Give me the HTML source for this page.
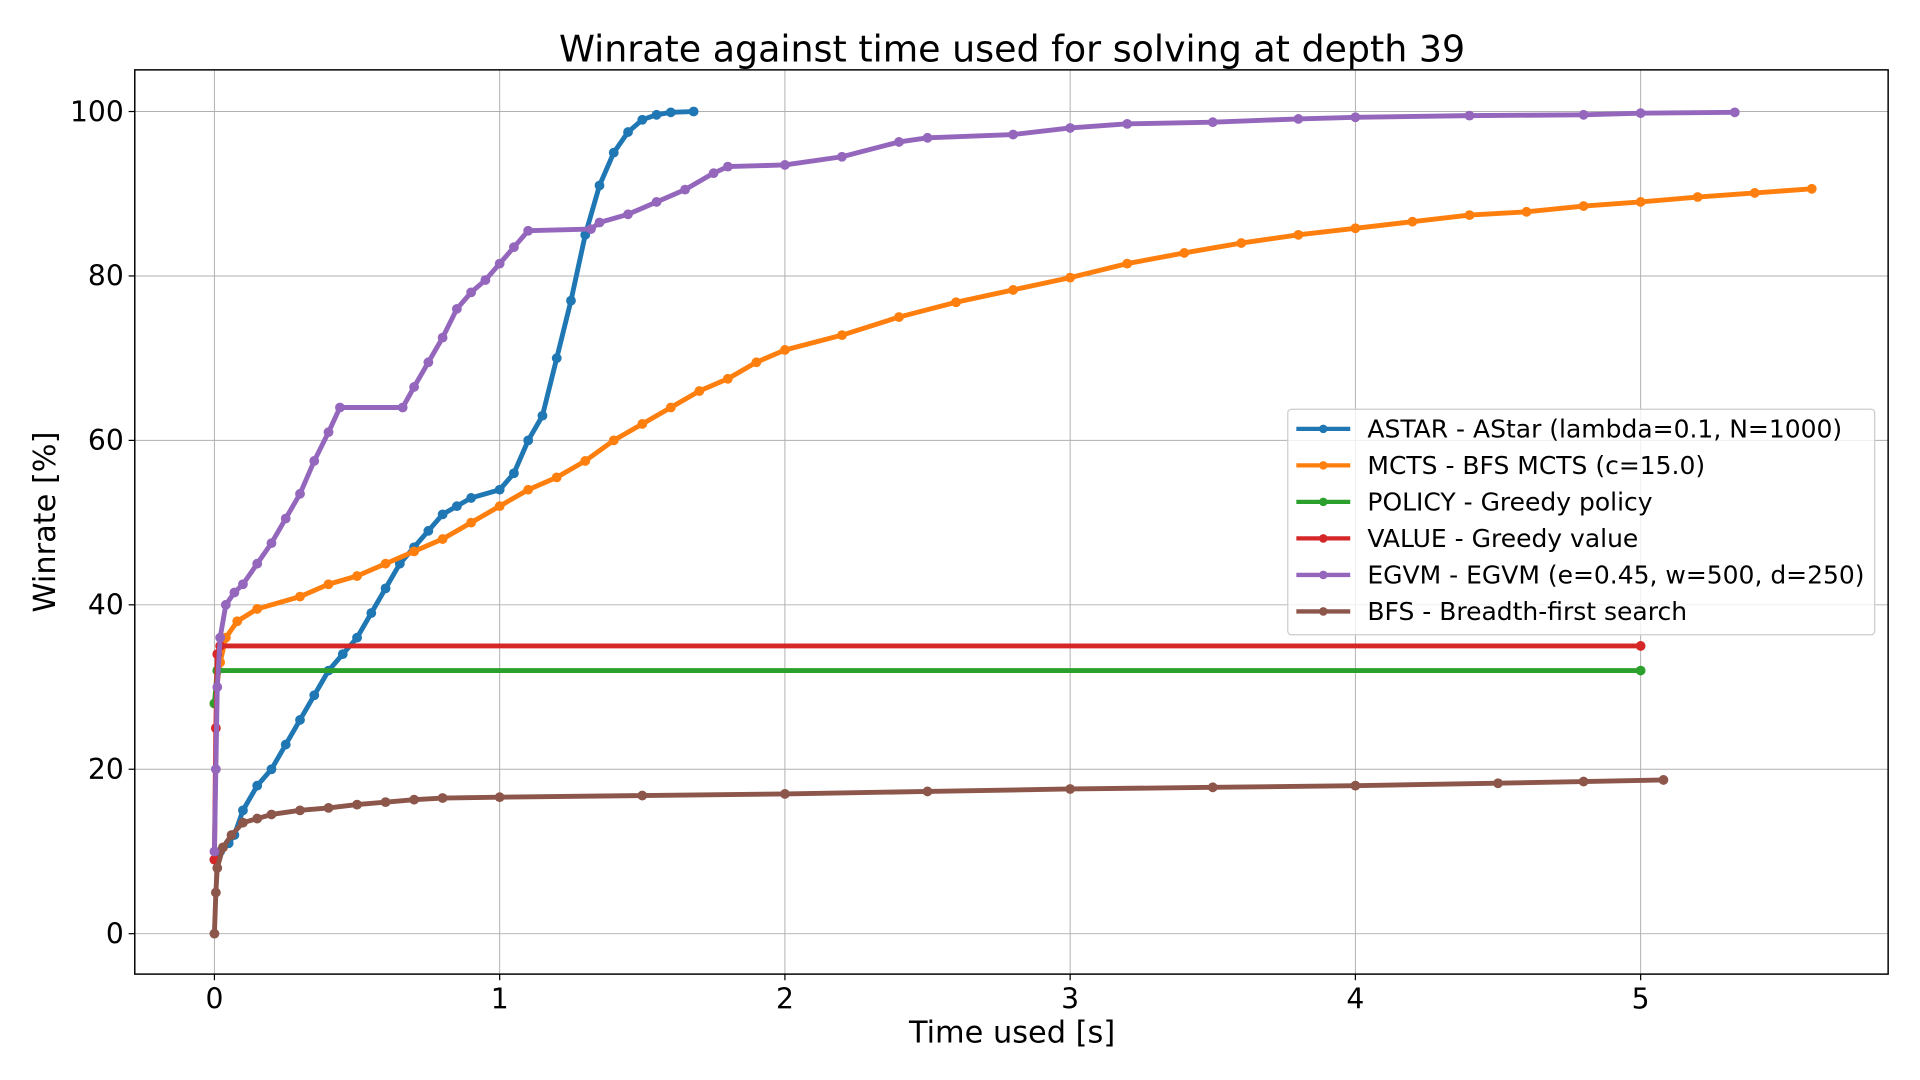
<!DOCTYPE html>
<html><head><meta charset="utf-8"><style>
html,body{margin:0;padding:0;background:#fff;}
svg{display:block;font-family:"DejaVu Sans","Liberation Sans",sans-serif;}
</style></head><body>
<svg id="chart" width="1920" height="1080" viewBox="0 0 1567 881.4">
<rect width="1567" height="881.4" fill="#fff"/>
<text x="826" y="50" font-size="29.7" text-anchor="middle">Winrate against time used for solving at depth 39</text>
<g id="grid"></g>
<g id="series"></g>
<rect x="110" y="57" width="1431" height="738" fill="none" stroke="#000" stroke-width="1.2"/>
<g id="ticks"></g>
<text x="826" y="851" font-size="24.8" text-anchor="middle">Time used [s]</text>
<text x="0" y="0" font-size="24.8" text-anchor="middle" transform="translate(45,426) rotate(-90)">Winrate [%]</text>
<g id="legend"></g>
</svg>
<script>
const xTicks=[0,1,2,3,4,5];
const yTicks=[0,20,40,60,80,100];
const seriesNames=["ASTAR - AStar (lambda=0.1, N=1000)","MCTS - BFS MCTS (c=15.0)","POLICY - Greedy policy","VALUE - Greedy value","EGVM - EGVM (e=0.45, w=500, d=250)","BFS - Breadth-first search"];
const seriesColors=["#1f77b4","#ff7f0e","#2ca02c","#d62728","#9467bd","#8c564b"];
const astarT=[0,0.02,0.05,0.07,0.1,0.15,0.2,0.25,0.3,0.35,0.4,0.45,0.5,0.55,0.6,0.65,0.7,0.75,0.8,0.85,0.9,1.0,1.05,1.1,1.15,1.2,1.25,1.3,1.35,1.4,1.45,1.5,1.55,1.6,1.68];
const astarW=[9,10,11,12,15,18,20,23,26,29,32,34,36,39,42,45,47,49,51,52,53,54,56,60,63,70,77,85,91,95,97.5,99,99.6,99.9,100];
const mctsT=[0,0.02,0.04,0.08,0.15,0.3,0.4,0.5,0.6,0.7,0.8,0.9,1.0,1.1,1.2,1.3,1.4,1.5,1.6,1.7,1.8,1.9,2.0,2.2,2.4,2.6,2.8,3.0,3.2,3.4,3.6,3.8,4.0,4.2,4.4,4.6,4.8,5.0,5.2,5.4,5.6];
const mctsW=[28,33,36,38,39.5,41,42.5,43.5,45,46.5,48,50,52,54,55.5,57.5,60,62,64,66,67.5,69.5,71,72.8,75,76.8,78.3,79.8,81.5,82.8,84,85,85.8,86.6,87.4,87.8,88.5,89,89.6,90.1,90.6];
const policyT=[0,0.01,5];
const policyW=[28,32,32];
const valueT=[0,0.005,0.01,0.02,5];
const valueW=[9,25,34,35,35];
const egvmT=[0,0.005,0.01,0.02,0.04,0.07,0.1,0.15,0.2,0.25,0.3,0.35,0.4,0.44,0.66,0.7,0.75,0.8,0.85,0.9,0.95,1.0,1.05,1.1,1.32,1.35,1.45,1.55,1.65,1.75,1.8,2.0,2.2,2.4,2.5,2.8,3.0,3.2,3.5,3.8,4.0,4.4,4.8,5.0,5.33];
const egvmW=[10,20,30,36,40,41.5,42.5,45,47.5,50.5,53.5,57.5,61,64,64,66.5,69.5,72.5,76,78,79.5,81.5,83.5,85.5,85.7,86.5,87.5,89,90.5,92.5,93.3,93.5,94.5,96.3,96.8,97.2,98,98.5,98.7,99.1,99.3,99.5,99.6,99.8,99.9];
const bfsT=[0,0.005,0.01,0.03,0.06,0.1,0.15,0.2,0.3,0.4,0.5,0.6,0.7,0.8,1.0,1.5,2.0,2.5,3.0,3.5,4.0,4.5,4.8,5.08];
const bfsW=[0,5,8,10.5,12,13.5,14,14.5,15,15.3,15.7,16,16.3,16.5,16.6,16.8,17,17.3,17.6,17.8,18,18.3,18.5,18.7];
const allT=[astarT,mctsT,policyT,valueT,egvmT,bfsT];
const allW=[astarW,mctsW,policyW,valueW,egvmW,bfsW];
const order=[0,1,2,3,4,5];
const NS="http://www.w3.org/2000/svg";
function xs(v){return 175+v*232.8;}
function ys(v){return 762-v*6.71;}
function mk(tag,attrs,parent){const e=document.createElementNS(NS,tag);for(const k in attrs)e.setAttribute(k,attrs[k]);parent.appendChild(e);return e;}
const grid=document.getElementById('grid'),ticks=document.getElementById('ticks'),ser=document.getElementById('series'),leg=document.getElementById('legend');
xTicks.forEach(t=>{
  const g=mk('line',{x1:xs(t),x2:xs(t),y1:57,y2:795,stroke:'#b0b0b0','stroke-width':0.8},grid);
  
  
  mk('line',{x1:xs(t),x2:xs(t),y1:795,y2:800,stroke:'#000','stroke-width':1},ticks);
  const l=mk('text',{x:xs(t),y:823,'font-size':23,'text-anchor':'middle'},ticks);
  l.textContent=t;
  
  
});
yTicks.forEach(t=>{
  const g=mk('line',{x1:110,x2:1541,y1:ys(t),y2:ys(t),stroke:'#b0b0b0','stroke-width':0.8},grid);
  
  
  mk('line',{x1:105,x2:110,y1:ys(t),y2:ys(t),stroke:'#000','stroke-width':1},ticks);
  const l=mk('text',{x:101,y:ys(t)+8,'font-size':23,'text-anchor':'end'},ticks);
  l.textContent=t;
  
  
});
order.forEach(i=>{
  const T=allT[i],W=allW[i],c=seriesColors[i];
  const g=mk('g',{},ser);
  
  
  const pts=T.map((t,k)=>xs(t)+','+ys(W[k])).join(' ');
  const pl=mk('polyline',{points:pts,fill:'none',stroke:c,'stroke-width':4,'stroke-linejoin':'round'},g);
  
  
  T.forEach((t,k)=>{
    const p=mk('circle',{cx:xs(t),cy:ys(W[k]),r:4,fill:c},g);
    
    
  });
});
mk('rect',{x:1051,y:334,width:479,height:184,rx:3,fill:'#fff','fill-opacity':0.8,stroke:'#ccc','stroke-width':1},leg);
seriesNames.forEach((n,i)=>{
  const y=350+i*29.8;
  const e=mk('g',{},leg);
  
  
  mk('line',{x1:1058,x2:1102,y1:y,y2:y,stroke:seriesColors[i],'stroke-width':3.5},e);
  mk('circle',{cx:1080,cy:y,r:3.5,fill:seriesColors[i]},e);
  const t=mk('text',{x:1116,y:y+7,'font-size':20.4},e);
  t.textContent=n;
});
</script>
</body></html>
